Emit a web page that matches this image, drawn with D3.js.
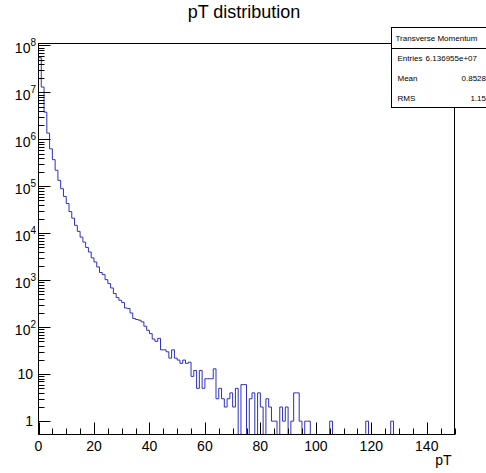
<!DOCTYPE html>
<html>
<head>
<meta charset="utf-8">
<script src="https://cdn.jsdelivr.net/npm/d3@7"></script>
<style>
body { margin: 0; background: #fff; }
svg { display: block; }
text { font-family: "Liberation Sans", Arial, sans-serif; fill: #000; }
</style>
</head>
<body>
<svg id="chart" width="486" height="473"></svg>
<script>
// histogram: 150 bins of width 1 from 0 to 150 (counts)
const binEdges = [0, 150]
const counts = [
	5.5e7, 1.3e7, 3.8e6, 1.36e6, 6.3e5, 3.7e5, 2.2e5, 1.34e5, 8.9e4, 6.1e4,
	4.3e4, 2.9e4, 2.1e4, 1.48e4, 1.1e4, 8300, 6500, 5000, 4000, 3000,
	2450, 1920, 1460, 1320, 1030, 850, 686, 521, 428, 375,
	335, 257, 250, 201, 153, 146, 141, 130, 105, 86,
	73, 56, 50, 58, 33, 33, 30, 22, 33, 22,
	20, 17, 20, 17, 18, 9, 12, 5, 12, 5,
	8, 8, 8, 13, 3, 5, 3, 2, 3, 4,
	2, 5, 0, 6, 6, 0, 3, 4, 0, 4,
	2, 0, 3, 2, 1, 1, 0, 2, 1, 2,
	0, 1, 4, 4, 1, 0, 1, 1, 0, 0,
	0, 0, 0, 0, 0, 1, 0, 0, 0, 0,
	0, 0, 0, 0, 0, 0, 0, 0, 1, 0,
	0, 0, 0, 0, 0, 0, 0, 1, 0, 0,
	0, 0, 0, 0, 0, 0, 0, 0, 0, 0,
	0, 0, 0, 0, 0, 0, 0, 0, 0, 0
]

const xMajor = [0, 20, 40, 60, 80, 100, 120, 140]
const xMinorStep = 5
const yDecades = [0, 1, 2, 3, 4, 5, 6, 7, 8]
const yRange = [0.52, 1.1e8]

const title = 'pT distribution'
const xTitle = 'pT'
const statsTitle = 'Transverse Momentum'
const statsLabels = ['Entries', 'Mean', 'RMS']
const statsValues = ['6.136955e+07', '0.8528', '1.15']

const frame = { left: 38.5, right: 454.5, top: 43.5, bottom: 434.5 }
const lineColor = '#2f2fc0'

const svg = d3.select('#chart')

const x = d3.scaleLinear().domain(binEdges).range([frame.left, frame.right])
const y = d3.scaleLog().domain(yRange).range([frame.bottom, frame.top])

svg.append('defs').append('clipPath')
	.attr('id', 'frame-clip')
	.append('rect')
		.attr('x', frame.left)
		.attr('y', frame.top)
		.attr('width', frame.right - frame.left)
		.attr('height', frame.bottom - frame.top)

// histogram as a step line, empty bins fall to the frame bottom
let d = `M${x(0)},${frame.bottom}`
counts.forEach((c, i) => {
	const yy = c > 0 ? y(c) : frame.bottom
	d += `V${yy}H${x(i + 1)}`
})
d += `V${frame.bottom}`

svg.append('path')
	.attr('d', d)
	.attr('fill', 'none')
	.attr('stroke', lineColor)
	.attr('stroke-width', 1)
	.attr('clip-path', 'url(#frame-clip)')

// frame
svg.append('rect')
	.attr('x', frame.left)
	.attr('y', frame.top)
	.attr('width', frame.right - frame.left)
	.attr('height', frame.bottom - frame.top)
	.attr('fill', 'none')
	.attr('stroke', '#000')
	.attr('stroke-width', 1)

// x ticks (inside the frame)
const xMinor = d3.range(binEdges[0], binEdges[1] + 0.1, xMinorStep)
svg.append('g').selectAll('line')
	.data(xMinor)
	.join('line')
		.attr('x1', v => Math.round(x(v)) + 0.5)
		.attr('x2', v => Math.round(x(v)) + 0.5)
		.attr('y1', frame.bottom)
		.attr('y2', v => frame.bottom - (xMajor.includes(v) ? 12 : 6))
		.attr('stroke', '#000')

svg.append('g').selectAll('text')
	.data(xMajor)
	.join('text')
		.attr('x', v => x(v))
		.attr('y', 451)
		.attr('text-anchor', 'middle')
		.style('font-size', '14px')
		.text(v => v)

svg.append('text')
	.attr('x', frame.right - 3)
	.attr('y', 465)
	.attr('text-anchor', 'end')
	.style('font-size', '14px')
	.text(xTitle)

// y ticks: decades plus 2..9 minors
const yMinor = []
yDecades.forEach(p => {
	for (let k = 2; k <= 9; k++) {
		const v = k * Math.pow(10, p)
		if (v <= yRange[1]) yMinor.push(v)
	}
})
const ya = svg.append('g')
ya.selectAll('line.minor')
	.data(yMinor)
	.join('line')
		.attr('class', 'minor')
		.attr('x1', frame.left)
		.attr('x2', frame.left + 6)
		.attr('y1', v => Math.round(y(v)) + 0.5)
		.attr('y2', v => Math.round(y(v)) + 0.5)
		.attr('stroke', '#000')
ya.selectAll('line.major')
	.data(yDecades)
	.join('line')
		.attr('class', 'major')
		.attr('x1', frame.left)
		.attr('x2', frame.left + 12)
		.attr('y1', p => Math.round(y(Math.pow(10, p))) + 0.5)
		.attr('y2', p => Math.round(y(Math.pow(10, p))) + 0.5)
		.attr('stroke', '#000')

yDecades.forEach(p => {
	const yy = y(Math.pow(10, p))
	if (p < 2) {
		svg.append('text')
			.attr('x', 33)
			.attr('y', yy + 5)
			.attr('text-anchor', 'end')
			.style('font-size', '14px')
			.text(p === 0 ? '1' : '10')
	} else {
		const t = svg.append('text')
			.attr('x', 36)
			.attr('y', yy + 8)
			.attr('text-anchor', 'end')
			.style('font-size', '14px')
		t.append('tspan').text('10')
		t.append('tspan')
			.attr('dy', -7)
			.style('font-size', '10px')
			.text(p)
	}
})

// title
svg.append('text')
	.attr('x', 244)
	.attr('y', 18)
	.attr('text-anchor', 'middle')
	.style('font-size', '18px')
	.text(title)

// stats box (runs past the right edge of the window)
const box = { x: 391.5, y: 27.5, w: 110, h: 80 }
const sb = svg.append('g')
sb.append('rect')
	.attr('x', box.x)
	.attr('y', box.y)
	.attr('width', box.w)
	.attr('height', box.h)
	.attr('fill', '#fff')
	.attr('stroke', '#000')
const rowH = box.h / 4
sb.append('line')
	.attr('x1', box.x)
	.attr('x2', box.x + box.w)
	.attr('y1', Math.round(box.y + rowH) + 0.5)
	.attr('y2', Math.round(box.y + rowH) + 0.5)
	.attr('stroke', '#000')
sb.append('text')
	.attr('x', box.x + 45)
	.attr('y', box.y + rowH / 2 + 3)
	.attr('text-anchor', 'middle')
	.style('font-size', '8px')
	.text(statsTitle)
statsLabels.forEach((lab, i) => {
	const yy = box.y + rowH * (i + 1.5) + 3
	sb.append('text')
		.attr('x', box.x + 6)
		.attr('y', yy)
		.style('font-size', '8px')
		.text(lab)
	sb.append('text')
		.attr('x', i === 0 ? 477 : 486)
		.attr('y', yy)
		.attr('text-anchor', 'end')
		.style('font-size', '8px')
		.text(statsValues[i])
})
</script>
</body>
</html>
